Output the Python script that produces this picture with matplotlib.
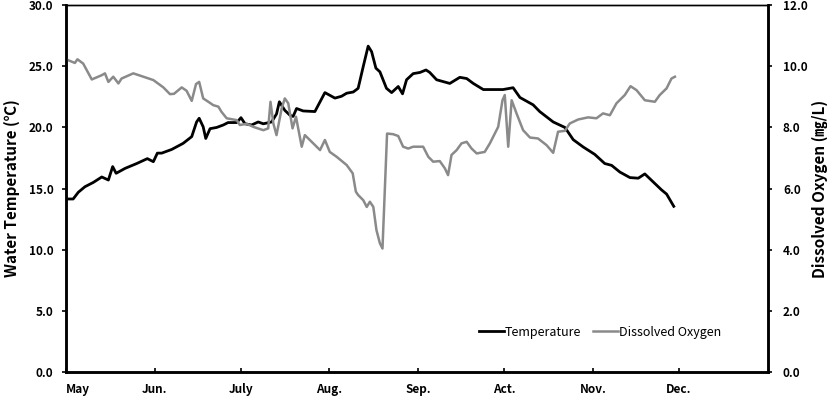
import matplotlib.pyplot as plt
import numpy as np

# days counted from 1 May
month_days = [0, 31, 61, 92, 123, 153, 184, 214]
month_labels = ["May", "Jun.", "July", "Aug.", "Sep.", "Act.", "Nov.", "Dec."]

temp_day = [0, 2.5, 4.3, 6.6, 9.5, 12.5, 14.8, 16.3, 17.5, 20.6, 24.7, 28.4, 30.5, 31.9,
            33.4, 36.9, 40.9, 43.9, 45.6, 46.5, 47.9, 48.8, 50.3, 52.6, 54.9, 56.6, 59.6,
            61.1, 62.5, 64.8, 67.1, 68.9, 71.8, 73.5, 74.5, 76.4, 78.2, 79.3, 80.5, 82.8,
            86.9, 90.4, 93.9, 96.2, 98.0, 100.3, 102.0, 103.8, 105.5, 106.7, 108.2, 109.6,
            111.9, 113.7, 116.0, 117.5, 118.9, 121.2, 123.6, 125.7, 127.0, 129.4, 131.7,
            134.0, 137.5, 139.9, 142.2, 145.7, 152.6, 156.1, 158.5, 163.1, 165.4, 170.1,
            174.2, 177.1, 180.6, 184.6, 188.1, 190.5, 193.4, 196.9, 199.8, 202.1, 205.0,
            207.9, 209.7, 212.2]
temp_val = [14.15, 14.15, 14.7, 15.15, 15.5, 15.95, 15.7, 16.8, 16.25, 16.65, 17.05, 17.45,
            17.2, 17.9, 17.9, 18.2, 18.7, 19.25, 20.45, 20.75, 20.05, 19.1, 19.9, 20.0, 20.2,
            20.4, 20.4, 20.8, 20.3, 20.2, 20.45, 20.3, 20.45, 21.1, 22.1, 21.4, 21.0, 20.9,
            21.55, 21.35, 21.3, 22.85, 22.4, 22.55, 22.8, 22.9, 23.2, 25.0, 26.65, 26.2,
            24.85, 24.55, 23.2, 22.85, 23.35, 22.75, 23.9, 24.4, 24.5, 24.7, 24.5, 23.9,
            23.75, 23.6, 24.1, 24.0, 23.6, 23.1, 23.1, 23.25, 22.45, 21.85, 21.3, 20.45,
            20.0, 19.0, 18.4, 17.8, 17.05, 16.9, 16.35, 15.9, 15.85, 16.2, 15.55, 14.9,
            14.55, 13.55]

do_day = [0, 3.1, 4.0, 6.0, 9.0, 12.5, 13.6, 14.8, 16.5, 18.3, 19.4, 23.5, 27.0, 30.5,
          34.0, 36.3, 37.7, 40.4, 42.1, 43.9, 45.4, 46.5, 47.9, 49.7, 51.4, 53.2, 54.3,
          56.1, 59.6, 60.7, 63.1, 65.4, 68.9, 70.6, 71.4, 72.4, 73.5, 75.3, 76.4, 77.6,
          79.1, 80.3, 82.3, 83.4, 88.7, 90.4, 92.1, 94.5, 98.0, 100.1, 101.2, 102.0, 103.8,
          105.0, 106.1, 107.3, 108.4, 109.6, 110.5, 112.1, 114.2, 116.0, 117.7, 119.5,
          121.2, 124.7, 126.5, 128.2, 130.5, 132.3, 133.4, 134.6, 136.4, 138.1, 139.9,
          141.6, 143.4, 146.2, 148.0, 150.9, 152.4, 153.2, 154.4, 155.6, 157.3, 159.6,
          162.0, 164.8, 167.8, 170.1, 171.8, 174.2, 175.9, 178.8, 182.3, 185.2, 187.5,
          189.9, 192.2, 195.1, 197.1, 199.2, 202.1, 205.6, 207.3, 209.7, 211.4, 212.6]
do_val = [10.23, 10.11, 10.23, 10.09, 9.57, 9.71, 9.77, 9.49, 9.66, 9.44, 9.6, 9.77, 9.66,
          9.55, 9.31, 9.09, 9.1, 9.31, 9.2, 8.87, 9.42, 9.49, 8.95, 8.84, 8.73, 8.68, 8.51,
          8.3, 8.24, 8.08, 8.12, 8.02, 7.91, 7.97, 8.84, 8.13, 7.75, 8.62, 8.95, 8.79, 7.97,
          8.35, 7.37, 7.75, 7.26, 7.59, 7.2, 7.04, 6.77, 6.5, 5.9, 5.79, 5.62, 5.4, 5.57,
          5.4, 4.64, 4.21, 4.04, 7.8, 7.78, 7.72, 7.37, 7.31, 7.37, 7.37, 7.04, 6.88, 6.9,
          6.66, 6.44, 7.1, 7.26, 7.48, 7.53, 7.31, 7.15, 7.2, 7.48, 8.02, 8.89, 9.06, 7.37,
          8.89, 8.46, 7.91, 7.67, 7.64, 7.42, 7.17, 7.86, 7.89, 8.13, 8.26, 8.33, 8.3, 8.46,
          8.4, 8.79, 9.06, 9.35, 9.22, 8.89, 8.84, 9.06, 9.28, 9.6, 9.66]

plt.rcParams["font.family"] = ["Noto Sans CJK KR", "DejaVu Sans"]

fig = plt.figure(figsize=(8.27, 3.98), dpi=100)
ax = fig.add_axes([0.0798, 0.0653, 0.8485, 0.9217])
ax2 = ax.twinx()

ax.plot(temp_day, temp_val, color="black", lw=2.0, label="Temperature")
ax2.plot(do_day, do_val, color="#8a8a8a", lw=1.8, label="Dissolved Oxygen")

ax.set_xlim(0, 245)
ax.set_ylim(0, 30)
ax2.set_ylim(0, 12)
ax.set_yticks(np.arange(0, 31, 5))
ax.set_yticklabels([f"{v:.1f}" for v in np.arange(0, 31, 5)], fontweight="bold", fontsize=8.5)
ax2.set_yticks(np.arange(0, 13, 2))
ax2.set_yticklabels([f"{v:.1f}" for v in np.arange(0, 13, 2)], fontweight="bold", fontsize=8.5)
ax.set_xticks(month_days)
ax.set_xticklabels(month_labels, fontweight="bold", fontsize=8.5)
ax.get_xticklabels()[0].set_horizontalalignment("left")

ax.tick_params(axis="x", direction="in", length=3, width=1.2, pad=8)
ax.tick_params(axis="y", direction="out", length=3, width=1.2, pad=6)
ax2.tick_params(axis="y", direction="out", length=3, width=1.2, pad=8)

for a in (ax, ax2):
    for side in ("left", "right", "bottom"):
        a.spines[side].set_linewidth(1.8)
    a.spines["top"].set_linewidth(1.0)

ax.set_ylabel("Water Temperature (℃)", fontweight="bold", fontsize=11, labelpad=6)
ax2.set_ylabel("Dissolved Oxygen (㎎/L)", fontweight="bold", fontsize=11, labelpad=3)

h1, l1 = ax.get_legend_handles_labels()
h2, l2 = ax2.get_legend_handles_labels()
ax2.legend(h1 + h2, l1 + l2, loc="lower right", bbox_to_anchor=(0.95, 0.06), ncol=2,
           frameon=False, fontsize=9, handlelength=2.0, handletextpad=0.05, columnspacing=1.0)

fig.savefig("out.png", dpi=100)
